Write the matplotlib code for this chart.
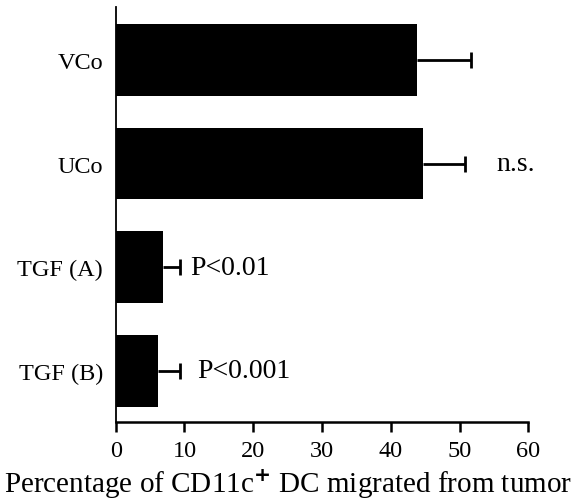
import matplotlib
matplotlib.use("Agg")
import matplotlib.pyplot as plt
import numpy as np

categories = ["VCo", "UCo", "TGF (A)", "TGF (B)"]
means = [43.8, 44.7, 6.9, 6.2]
errors = [7.8, 6.1, 2.45, 3.15]
annotations = ["", "n.s.", "P<0.01", "P<0.001"]
annot_x = [0, 55.3, 10.8, 11.8]
xticks = [0, 10, 20, 30, 40, 50, 60]

plt.rcParams['font.family'] = ['Liberation Serif', 'DejaVu Serif']
plt.rcParams['mathtext.fontset'] = 'custom'
plt.rcParams['mathtext.rm'] = 'Liberation Serif'

fig = plt.figure(figsize=(5.8, 5.02), dpi=100)
ax = fig.add_axes([0.1995, 0.158, 0.7114, 0.826])

y = np.arange(len(categories))
ax.barh(y, means, height=0.69, color='black', edgecolor='none', zorder=2)
eb = ax.errorbar(means, y, xerr=[np.zeros(len(means)), errors], fmt='none',
                 ecolor='black', elinewidth=2, capsize=5.5, capthick=2, zorder=1)
# keep only the upper (right) caps
caplines = eb[1]
if len(caplines) >= 2:
    caplines[0].set_visible(False)

for xi, yi, txt in zip(annot_x, y, annotations):
    if txt:
        ax.text(xi, yi, txt, ha='left', va='center', fontsize=20)

ax.set_xlim(0, 60)
ax.set_ylim(3.49, -0.51)
ax.set_xticks(xticks)
ax.set_xticklabels([str(t) for t in xticks], fontsize=17.5)
ax.set_yticks(y)
ax.set_yticklabels(categories, fontsize=17.5)
ax.tick_params(axis='y', length=0, pad=9)
ax.tick_params(axis='x', length=7.5, width=1.8, pad=6)
for s in ['top', 'right']:
    ax.spines[s].set_visible(False)
ax.spines['left'].set_linewidth(1.3)
ax.spines['bottom'].set_linewidth(1.8)
ax.set_xlabel("Percentage of CD11c$^{\\mathbf{+}}$ DC migrated from tumor", fontsize=21)
ax.xaxis.set_label_coords(0.4176, -0.107)

fig.savefig("out.png", dpi=100)
